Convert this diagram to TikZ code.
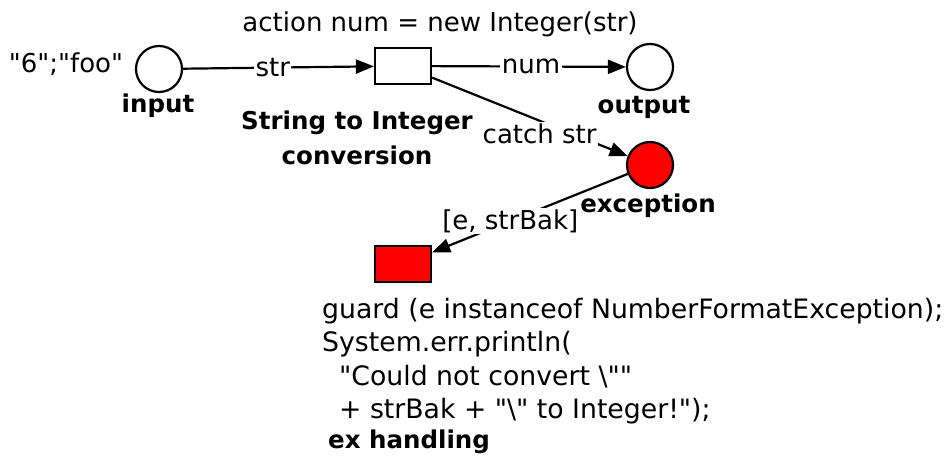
\documentclass[tikz,border=0pt]{standalone}
\usepackage{fontspec}
\setmainfont{DejaVu Sans}[Ligatures=TeXOff]
\usepackage{tikz}
\usetikzlibrary{arrows.meta}
\tikzset{
	place/.style={draw, circle, line width=2.2pt, inner sep=0pt, minimum size=46pt},
	trans/.style={draw, rectangle, line width=2.2pt, inner sep=0pt,
		minimum width=56pt, minimum height=36pt},
	txt/.style={inner sep=0pt, font=\fontsize{26}{33}\selectfont},
	nm/.style={inner sep=0pt, font=\fontsize{24.5}{35}\selectfont\bfseries},
	lbl/.style={txt, fill=white, inner sep=1.5pt},
	arc/.style={line width=2.2pt, -{Triangle[length=18pt, width=14pt]}},
}

\begin{document}
\begin{tikzpicture}[x=1pt, y=-1pt]
				\useasboundingbox (0,0) rectangle (944,457);
				\node[place] at (159,69) (input) {};
				\node[trans] at (403,66) (conv) {};
				\node[place] at (650,67) (output) {};
				\node[place, fill=red] at (650,165) (exc) {};
				\node[trans, fill=red] at (403,264) (exh) {};
				\node[txt, anchor=base] at (66,73) (tok) {"6";"foo"};
				\node[nm, anchor=base] at (158,113) (inlab) {input};
				\node[nm, anchor=base] at (644,114) (outlab) {output};
				\node[nm, anchor=base] at (648,212) (exclab) {exception};
				\node[txt, anchor=base] at (440,32) (act) {action num = new Integer(str)};
				\node[nm, align=center] at (357,138) (convlab) {String to Integer\\conversion};
				\node[txt, font=\fontsize{26.7}{33.3}\selectfont, align=left, anchor=north west] at (322,298) (code) {guard (e instanceof NumberFormatException);\\System.err.println(\\~~"Could not convert \textbackslash""\\~~+ strBak + "\textbackslash" to Integer!");};
				\node[nm, anchor=base west] at (328,448) (exhlab) {ex handling};
				\draw[arc] (input) -- (conv) node[lbl, pos=0.47] {str};
				\draw[arc] (conv) -- (output) node[lbl, pos=0.51] {num};
				\draw[arc] (conv) -- (exc) node[lbl, pos=0.55, yshift=-13pt] {catch str};
				\draw[arc] (exc) -- (exh) node[lbl, pos=0.6] {[e, strBak]};
			\end{tikzpicture}
\end{document}
